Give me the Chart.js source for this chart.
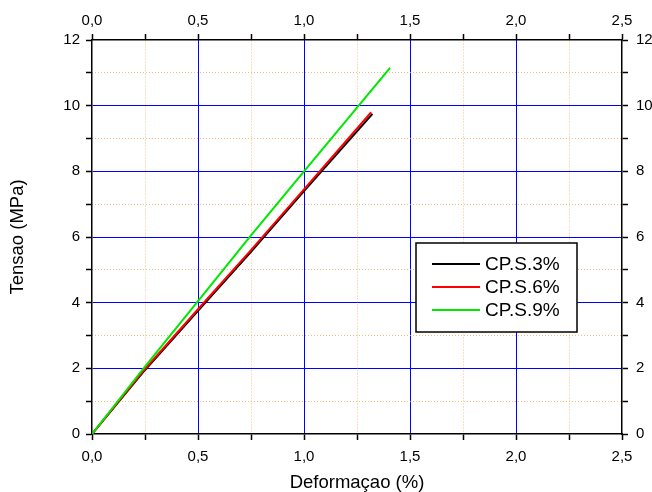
<!DOCTYPE html>
<html>
<head>
<meta charset="utf-8">
<script src="https://cdn.jsdelivr.net/npm/chart.js@4.4.0/dist/chart.umd.min.js"></script>
<style>
  html, body { margin: 0; padding: 0; background: #fff; }
  #wrap { width: 652px; height: 492px; }
</style>
</head>
<body>
<div id="wrap"><canvas id="tensaoChart" width="652" height="492"></canvas></div>
<script>
// series
const seriesLabels = ["CP.S.3%", "CP.S.6%", "CP.S.9%"];
const seriesColors = ["#000000", "#ff0000", "#00e800"];

const strain3 = [0, 0.25, 0.5, 0.75, 1.0, 1.323];
const stress3 = [0, 1.95, 3.75, 5.55, 7.4, 9.75];

const strain6 = [0, 0.25, 0.5, 0.75, 1.0, 1.317];
const stress6 = [0, 1.98, 3.8, 5.6, 7.45, 9.8];

const strain9 = [0, 0.25, 0.5, 0.75, 1.0, 1.406];
const stress9 = [0, 2.05, 4.05, 6.05, 8.0, 11.15];

// axis ranges / ticks
const xMin = 0, xMax = 2.5, xStep = 0.25;
const yMin = 0, yMax = 12, yStep = 1;

const FONT = "'Liberation Sans', Arial, sans-serif";
const BLUE = "#0000ff";
const ORANGE = "rgba(245,165,90,0.75)";

function toPoints(xs, ys) {
    return xs.map((x, i) => ({ x: x, y: ys[i] }));
}

function isMajorX(v) { return Math.abs(v / 0.5 - Math.round(v / 0.5)) < 1e-6; }
function isMajorY(v) { return Math.round(v) % 2 === 0; }
function xLabel(v) { return isMajorX(v) ? v.toFixed(1).replace(".", ",") : ""; }
function yLabel(v) { return isMajorY(v) ? String(v) : ""; }
function isEdgeX(v) { return v <= xMin + 1e-6 || v >= xMax - 1e-6; }
function isEdgeY(v) { return v <= yMin + 1e-6 || v >= yMax - 1e-6; }

/* legend drawn inside the plot, like the original */
const legendBox = {
    id: "legendBox",
    afterDatasetsDraw(chart) {
        const ctx = chart.ctx;
        const x = 416, y = 243, w = 161, h = 89;
        ctx.save();
        ctx.fillStyle = "#fff";
        ctx.fillRect(x, y, w, h);
        ctx.strokeStyle = "#000";
        ctx.lineWidth = 1.5;
        ctx.strokeRect(x, y, w, h);
        ctx.font = "19px " + FONT;
        ctx.textBaseline = "middle";
        seriesLabels.forEach((lab, i) => {
            const ry = y + 21 + i * 23;
            ctx.strokeStyle = seriesColors[i];
            ctx.lineWidth = 2;
            ctx.beginPath();
            ctx.moveTo(x + 16, ry);
            ctx.lineTo(x + 64, ry);
            ctx.stroke();
            ctx.fillStyle = "#000";
            ctx.fillText(lab, x + 69, ry + 1);
        });
        ctx.restore();
    }
};

const tickFont = { family: FONT, size: 15 };
const titleFont = { family: FONT, size: 18.5, lineHeight: 1 };

new Chart(document.getElementById("tensaoChart"), {
    type: "scatter",
    data: {
        datasets: [
            { label: seriesLabels[0], data: toPoints(strain3, stress3), borderColor: seriesColors[0], order: 3 },
            { label: seriesLabels[1], data: toPoints(strain6, stress6), borderColor: seriesColors[1], order: 2 },
            { label: seriesLabels[2], data: toPoints(strain9, stress9), borderColor: seriesColors[2], order: 1 }
        ].map(ds => Object.assign(ds, {
            showLine: true,
            borderWidth: 2,
            pointRadius: 0,
            fill: false,
            tension: 0
        }))
    },
    options: {
        responsive: false,
        animation: false,
        devicePixelRatio: 1,
        layout: { padding: 0 },
        plugins: {
            legend: { display: false },
            tooltip: { enabled: false }
        },
        scales: {
            x: {
                type: "linear", position: "bottom",
                min: xMin, max: xMax,
                ticks: { stepSize: xStep, autoSkip: false, maxRotation: 0, color: "#000", font: tickFont, padding: 8, callback: xLabel },
                grid: {
                    color: c => (isMajorX(c.tick.value) && !isEdgeX(c.tick.value)) ? BLUE : "rgba(0,0,0,0)",
                    lineWidth: 1, tickColor: "#000", tickLength: 6, tickWidth: 1.5
                },
                border: { color: "#000", width: 1.5 },
                title: { display: true, text: "Deformaçao (%)", color: "#000", font: titleFont, padding: { top: 0, bottom: 0 } },
                afterFit: s => { s.height = 58; }
            },
            x2: {
                type: "linear", position: "top",
                min: xMin, max: xMax,
                ticks: { stepSize: xStep, autoSkip: false, maxRotation: 0, color: "#000", font: tickFont, padding: 4, callback: xLabel },
                grid: {
                    color: c => (!isMajorX(c.tick.value)) ? ORANGE : "rgba(0,0,0,0)",
                    lineWidth: 1, tickColor: "#000", tickLength: 6, tickWidth: 1.5
                },
                border: { color: "#000", width: 1.5, dash: [1, 2] },
                afterFit: s => { s.height = 40; }
            },
            y: {
                type: "linear", position: "left",
                min: yMin, max: yMax,
                ticks: { stepSize: yStep, autoSkip: false, color: "#000", font: tickFont, padding: 6, callback: yLabel },
                grid: {
                    color: c => (isMajorY(c.tick.value) && !isEdgeY(c.tick.value)) ? BLUE : "rgba(0,0,0,0)",
                    lineWidth: 1, tickColor: "#000", tickLength: 6, tickWidth: 1.5
                },
                border: { color: "#000", width: 1.5 },
                title: { display: true, text: "Tensao (MPa)", color: "#000", font: titleFont, padding: { top: 9, bottom: 0 } },
                afterFit: s => { s.width = 92; }
            },
            y2: {
                type: "linear", position: "right",
                min: yMin, max: yMax,
                ticks: { stepSize: yStep, autoSkip: false, color: "#000", font: tickFont, padding: 8, callback: yLabel },
                grid: {
                    color: c => (!isMajorY(c.tick.value)) ? ORANGE : "rgba(0,0,0,0)",
                    lineWidth: 1, tickColor: "#000", tickLength: 6, tickWidth: 1.5
                },
                border: { color: "#000", width: 1.5, dash: [1, 2] },
                afterFit: s => { s.width = 30; }
            }
        }
    },
    plugins: [legendBox]
});
</script>
</body>
</html>
